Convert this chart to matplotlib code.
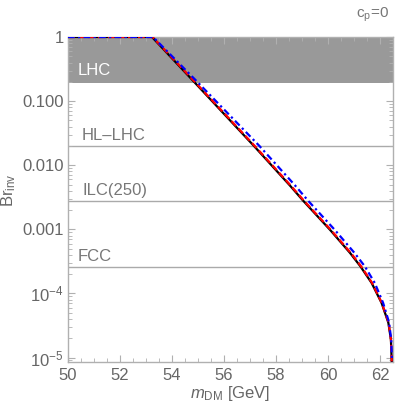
import numpy as np
import matplotlib.pyplot as plt
from matplotlib.ticker import FixedLocator, NullFormatter, LogLocator

plt.rcParams['font.family'] = ['Liberation Sans', 'DejaVu Sans']
plt.rcParams['mathtext.fontset'] = 'custom'
plt.rcParams['mathtext.rm'] = 'Liberation Sans'
plt.rcParams['mathtext.it'] = 'Liberation Sans:italic'

# data
m_black = [50.0, 53.23, 54.78, 57.15, 58.52, 59.06, 60.08, 60.85, 61.25, 61.68, 62.06, 62.32, 62.42, 62.45]
br_black = [1.0, 1.0, 0.214, 0.0200, 0.0049, 0.00275, 0.00098, 0.000427, 0.000263, 0.000145, 7.1e-5, 3.5e-5, 1.9e-5, 8.7e-6]

m_red = [50.0, 53.25, 54.81, 57.18, 58.55, 59.09, 60.11, 60.88, 61.28, 61.70, 62.07, 62.33, 62.42, 62.45]
br_red = br_black

m_blue = [50.0, 53.27, 54.90, 57.36, 58.72, 59.25, 60.26, 61.02, 61.42, 61.80, 62.12, 62.35, 62.43, 62.46]
br_blue = br_black

limits = {'LHC': 0.19, 'HL\u2013LHC': 0.020, 'ILC(250)': 0.0028, 'FCC': 0.00026}
label_y = {'LHC': 0.30, 'HL\u2013LHC': 0.029, 'ILC(250)': 0.0041, 'FCC': 0.00037}

grey = '#777777'
frame = '#b0b0b0'

fig = plt.figure(figsize=(3.99, 4.11), dpi=100)
ax = fig.add_axes([0.1704, 0.1192, 0.8146, 0.7908])

ax.set_yscale('log')
ax.set_xlim(50, 62.5)
ax.set_ylim(10**-5.07, 1.0)

# LHC excluded band
ax.axhspan(limits['LHC'], 1.0, color='#999999', lw=0, zorder=1)
for name in ['HL\u2013LHC', 'ILC(250)', 'FCC']:
    ax.axhline(limits[name], color='#aaaaaa', lw=1.0, zorder=1)

ax.text(50.38, label_y['LHC'], 'LHC', color='white', fontsize=12, va='center', zorder=2)
ax.text(50.54, label_y['HL\u2013LHC'], 'HL\u2013LHC', color=grey, fontsize=12, va='center')
ax.text(50.54, label_y['ILC(250)'], 'ILC(250)', color=grey, fontsize=12, va='center')
ax.text(50.38, label_y['FCC'], 'FCC', color=grey, fontsize=12, va='center')

ax.plot(m_black, br_black, color='black', lw=1.6, zorder=3)
ax.plot(m_red, br_red, color='red', lw=1.6, ls=(0, (3, 1.5)), zorder=4)
ax.plot(m_blue, br_blue, color='blue', lw=1.6, ls=(0, (3, 1.5, 1, 1.5)), zorder=5)

# ticks
ax.xaxis.set_major_locator(FixedLocator([50, 52, 54, 56, 58, 60, 62]))
ax.xaxis.set_minor_locator(FixedLocator(np.arange(50, 62.6, 0.5)))
yt = [1e-5, 1e-4, 1e-3, 1e-2, 1e-1, 1]
ax.yaxis.set_major_locator(FixedLocator(yt))
ax.set_yticklabels([r'$10^{-5}$', r'$10^{-4}$', '0.001', '0.010', '0.100', '1'])
ax.yaxis.set_minor_locator(LogLocator(base=10, subs=np.arange(2, 10), numticks=20))
ax.yaxis.set_minor_formatter(NullFormatter())

ax.tick_params(which='both', direction='in', top=True, right=True, color=frame,
               labelcolor='#666666', labelsize=12)
ax.tick_params(which='major', length=5, width=0.8)
ax.tick_params(which='minor', length=3, width=0.6)
ax.tick_params(axis='x', pad=4)
ax.tick_params(axis='y', pad=3)
for s in ax.spines.values():
    s.set_color(frame)
    s.set_linewidth(1.0)

ax.set_xlabel(r'$m_{\rm DM}$ [GeV]', color='#666666', fontsize=12, labelpad=1)
ax.set_ylabel(r'Br$_{\rm inv}$', color='#666666', fontsize=12)
ax.yaxis.set_label_coords(-0.155, 0.53)
fig.text(0.975, 0.965, r'c$_{\rm p}$=0', color='#777777', fontsize=11, ha='right', va='center')

fig.savefig('out.png', dpi=100)
